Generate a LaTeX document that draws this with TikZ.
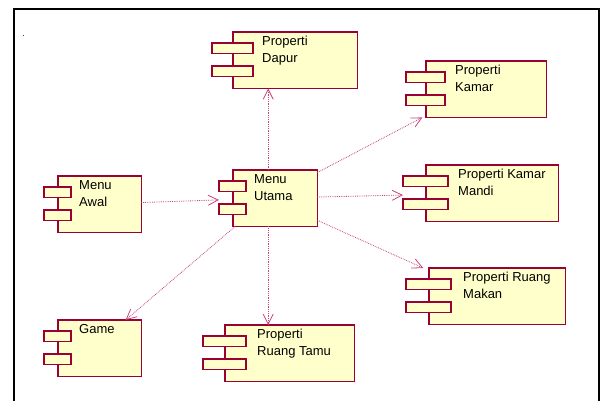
\documentclass[tikz,border=0pt]{standalone}
\usepackage{fontspec}
\setmainfont{Liberation Sans}
\usetikzlibrary{calc,arrows.meta}

\definecolor{merahtua}{HTML}{990033}
\definecolor{kuning}{HTML}{FFFFCC}
\definecolor{panah}{HTML}{C4457A}

% komponen: name, x, y, width, port overhang, text offset, text
\newcommand{\komponen}[7]{%
  \node[kotak, minimum width=#4] (#1) at (#2,#3) {};
  \draw[badan] ($(#1.north west)+(#5,0)$) rectangle (#1.south east);
  \draw[badan] ($(#1.north west)+(0,11)$) rectangle ++(2*#5-1,10.5);
  \draw[badan] ($(#1.north west)+(0,34)$) rectangle ++(2*#5-1,10.5);
  \node[teks] (#1-teks) at ($(#1.north west)+(#6,4)$) {#7};
}

\begin{document}
\begin{tikzpicture}[x=1pt, y=-1pt,
    kotak/.style={draw=none, inner sep=0pt, minimum height=56pt, anchor=north west},
    badan/.style={draw=merahtua, fill=kuning, line width=1.2pt},
    teks/.style={anchor=north west, inner sep=0pt, align=left, font=\fontsize{13}{17}\selectfont},
    hubung/.style={draw=panah, densely dotted, line width=0.8pt,
      -{Straight Barb[length=10pt,width=10pt]}}]

\useasboundingbox (0,0) rectangle (607,400);
\draw[line width=2pt] (14,405) -- (14,9) -- (599,9) -- (599,405);
\fill[merahtua] (23,35) rectangle ++(1.2,1.2);

\komponen{dapur}{212}{32}{145}{21}{50}{Properti\\Dapur}
\komponen{kamar}{406}{61}{140}{20}{49}{Properti\\Kamar}
\komponen{mandi}{403}{165}{155}{23}{55}{Properti Kamar\\Mandi}
\komponen{utama}{219}{170}{98}{14}{35}{Menu\\Utama}
\komponen{awal}{44}{176}{97}{14}{35}{Menu\\Awal}
\komponen{makan}{406}{268}{159}{23}{57}{Properti Ruang\\Makan}
\komponen{game}{44}{320}{97}{14}{35}{Game}
\komponen{tamu}{203}{325}{151}{22}{54}{Properti\\Ruang Tamu}

\draw[hubung] (awal) -- (utama);
\draw[hubung] (utama) -- (utama |- dapur.south);
\draw[hubung] (utama) -- (kamar);
\draw[hubung] (utama) -- (mandi);
\draw[hubung] (utama) -- (makan);
\draw[hubung] (utama) -- (utama |- tamu.north);
\draw[hubung] (utama) -- (game);

\end{tikzpicture}
\end{document}
